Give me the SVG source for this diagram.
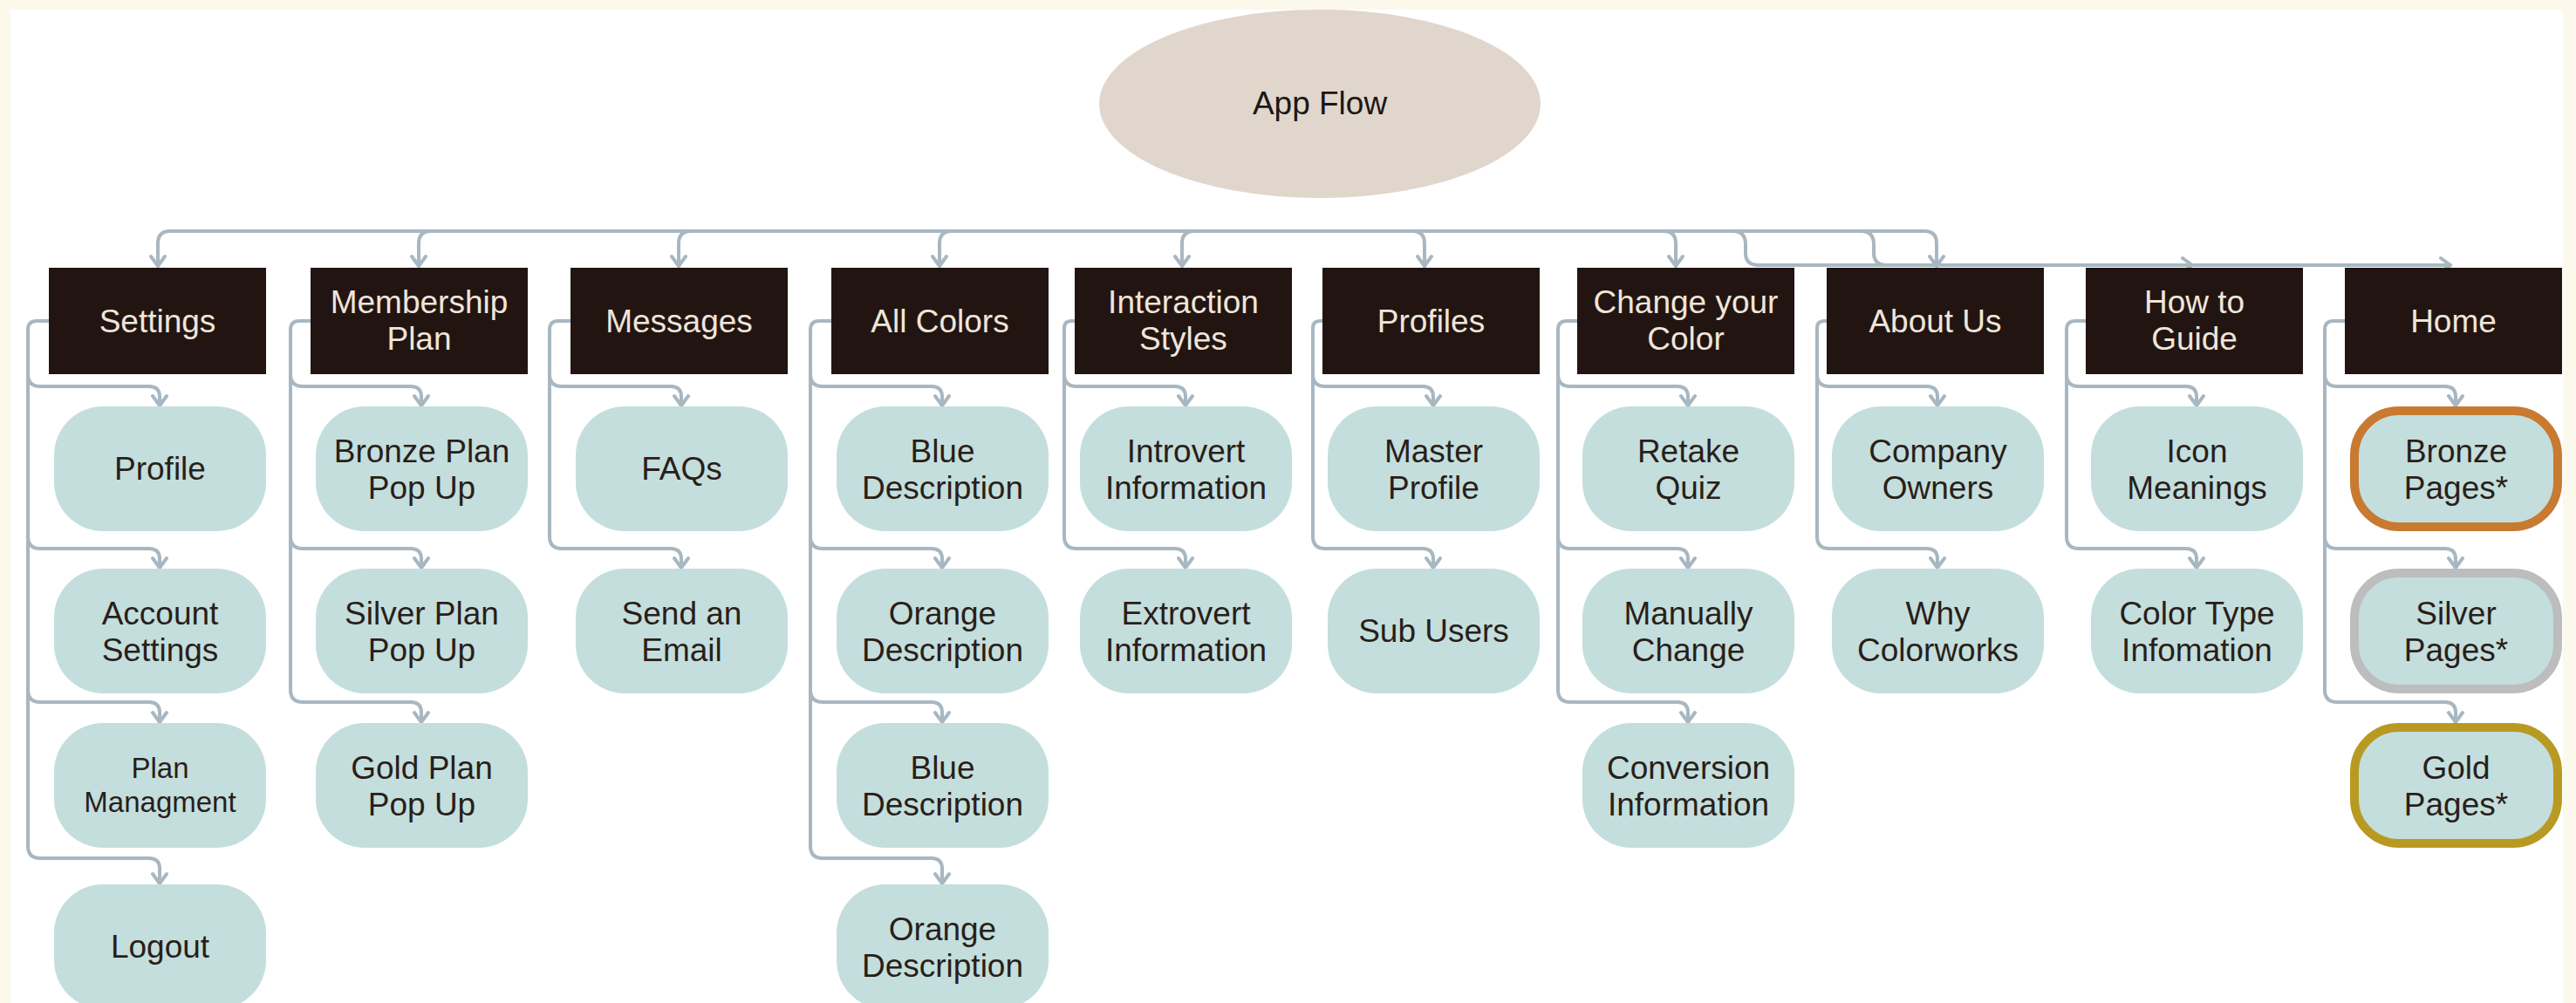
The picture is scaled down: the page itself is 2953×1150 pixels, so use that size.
<svg xmlns="http://www.w3.org/2000/svg" width="2953" height="1150" viewBox="0 0 2953 1150">
  <style>
    .hdr rect { fill: #221511; }
    .hdr text { fill: #efe5da; font-family: "Liberation Sans", Arial, sans-serif; font-size: 37px; text-anchor: middle; }
    .leaf rect { fill: #c3dedd; }
    .leaf text { fill: #2a1e19; font-family: "Liberation Sans", Arial, sans-serif; font-size: 37px; text-anchor: middle; }
    .leaf text.small { font-size: 33px; }
    .conn path { fill: none; stroke: #a8b7c1; stroke-width: 4; stroke-linecap: round; stroke-linejoin: round; marker-end: url(#ah); }
    .conn path.plain { marker-end: none; }
    .root text { fill: #1c1714; font-family: "Liberation Sans", Arial, sans-serif; font-size: 37px; text-anchor: middle; }
  </style>
  <defs>
    <marker id="ah" viewBox="0 0 20 20" refX="18" refY="10" markerWidth="20" markerHeight="20" markerUnits="userSpaceOnUse" orient="auto">
      <path d="M7,2 L18,10 L7,18" fill="none" stroke="#a8b7c1" stroke-width="4" stroke-linecap="round" stroke-linejoin="round"/>
    </marker>
  </defs>

  <!-- page -->
  <rect x="0" y="0" width="2953" height="1150" fill="#fdf8ec"/>
  <rect x="12" y="11" width="2926" height="1139" fill="#ffffff"/>

  <!-- connectors -->
  <g id="connectors" class="conn">
    <!-- top bus -->
    <path class="plain" d="M195,265 H2206"/>
    <path d="M195,265 Q181,265 181,279 V305"/>
    <path d="M494,265 Q480,265 480,279 V305"/>
    <path d="M792,265 Q778,265 778,279 V305"/>
    <path d="M1091,265 Q1077,265 1077,279 V305"/>
    <path d="M1369,265 Q1355,265 1355,279 V305"/>
    <path d="M1619,265 Q1633,265 1633,279 V305"/>
    <path d="M1907,265 Q1921,265 1921,279 V305"/>
    <path d="M2206,265 Q2220,265 2220,279 V305"/>
    <!-- drops to the right-hand row, running along the box tops -->
    <path d="M1986,265 Q2001,265 2001,280 V290 Q2001,304 2016,304 H2513"/>
    <path d="M2133,265 Q2148,265 2148,280 V290 Q2148,304 2163,304 H2809"/>

    <!-- Settings -->
    <path class="plain" d="M56,368 H42 Q32,368 32,378 V970"/>
    <path d="M32,429 Q32,443 46,443 H171 Q183,443 183,455 V465"/>
    <path d="M32,615 Q32,629 46,629 H171 Q183,629 183,641 V651"/>
    <path d="M32,791 Q32,805 46,805 H171 Q183,805 183,817 V828"/>
    <path d="M32,970 Q32,984 46,984 H171 Q183,984 183,996 V1013"/>
    <!-- Membership Plan -->
    <path class="plain" d="M356,368 H343 Q333,368 333,378 V791"/>
    <path d="M333,429 Q333,443 347,443 H471 Q483,443 483,455 V465"/>
    <path d="M333,615 Q333,629 347,629 H471 Q483,629 483,641 V651"/>
    <path d="M333,791 Q333,805 347,805 H471 Q483,805 483,817 V828"/>
    <!-- Messages -->
    <path class="plain" d="M654,368 H640 Q630,368 630,378 V615"/>
    <path d="M630,429 Q630,443 644,443 H769 Q781,443 781,455 V465"/>
    <path d="M630,615 Q630,629 644,629 H769 Q781,629 781,641 V651"/>
    <!-- All Colors -->
    <path class="plain" d="M953,368 H939 Q929,368 929,378 V970"/>
    <path d="M929,429 Q929,443 943,443 H1068 Q1080,443 1080,455 V465"/>
    <path d="M929,615 Q929,629 943,629 H1068 Q1080,629 1080,641 V651"/>
    <path d="M929,791 Q929,805 943,805 H1068 Q1080,805 1080,817 V828"/>
    <path d="M929,970 Q929,984 943,984 H1068 Q1080,984 1080,996 V1013"/>
    <!-- Interaction Styles -->
    <path class="plain" d="M1232,368 H1228 Q1220,368 1220,376 V615"/>
    <path d="M1220,429 Q1220,443 1234,443 H1347 Q1359,443 1359,455 V465"/>
    <path d="M1220,615 Q1220,629 1234,629 H1347 Q1359,629 1359,641 V651"/>
    <!-- Profiles -->
    <path class="plain" d="M1516,368 H1513 Q1505,368 1505,376 V615"/>
    <path d="M1505,429 Q1505,443 1519,443 H1631 Q1643,443 1643,455 V465"/>
    <path d="M1505,615 Q1505,629 1519,629 H1631 Q1643,629 1643,641 V651"/>
    <!-- Change your Color -->
    <path class="plain" d="M1808,368 H1796 Q1786,368 1786,378 V791"/>
    <path d="M1786,429 Q1786,443 1800,443 H1923 Q1935,443 1935,455 V465"/>
    <path d="M1786,615 Q1786,629 1800,629 H1923 Q1935,629 1935,641 V651"/>
    <path d="M1786,791 Q1786,805 1800,805 H1923 Q1935,805 1935,817 V828"/>
    <!-- About Us -->
    <path class="plain" d="M2094,368 H2091 Q2083,368 2083,376 V615"/>
    <path d="M2083,429 Q2083,443 2097,443 H2209 Q2221,443 2221,455 V465"/>
    <path d="M2083,615 Q2083,629 2097,629 H2209 Q2221,629 2221,641 V651"/>
    <!-- How to Guide -->
    <path class="plain" d="M2391,368 H2379 Q2369,368 2369,378 V615"/>
    <path d="M2369,429 Q2369,443 2383,443 H2506 Q2518,443 2518,455 V465"/>
    <path d="M2369,615 Q2369,629 2383,629 H2506 Q2518,629 2518,641 V651"/>
    <!-- Home -->
    <path class="plain" d="M2688,368 H2675 Q2665,368 2665,378 V791"/>
    <path d="M2665,429 Q2665,443 2679,443 H2803 Q2815,443 2815,455 V465"/>
    <path d="M2665,615 Q2665,629 2679,629 H2803 Q2815,629 2815,641 V651"/>
    <path d="M2665,791 Q2665,805 2679,805 H2803 Q2815,805 2815,817 V828"/>
  </g>

  <!-- root -->
  <g id="app-flow" class="root">
    <ellipse cx="1513" cy="119" rx="253" ry="108" fill="#e0d6cc"/>
    <text x="1513" y="131">App Flow</text>
  </g>

  <!-- section headers -->
  <g id="settings" class="hdr"><rect x="56" y="307" width="249" height="122"/><text x="180.5" y="381">Settings</text></g>
  <g id="membership-plan" class="hdr"><rect x="356" y="307" width="249" height="122"/><text x="480.5" y="359">Membership</text><text x="480.5" y="401">Plan</text></g>
  <g id="messages" class="hdr"><rect x="654" y="307" width="249" height="122"/><text x="778.5" y="381">Messages</text></g>
  <g id="all-colors" class="hdr"><rect x="953" y="307" width="249" height="122"/><text x="1077.5" y="381">All Colors</text></g>
  <g id="interaction-styles" class="hdr"><rect x="1232" y="307" width="249" height="122"/><text x="1356.5" y="359">Interaction</text><text x="1356.5" y="401">Styles</text></g>
  <g id="profiles" class="hdr"><rect x="1516" y="307" width="249" height="122"/><text x="1640.5" y="381">Profiles</text></g>
  <g id="change-your-color" class="hdr"><rect x="1808" y="307" width="249" height="122"/><text x="1932.5" y="359">Change your</text><text x="1932.5" y="401">Color</text></g>
  <g id="about-us" class="hdr"><rect x="2094" y="307" width="249" height="122"/><text x="2218.5" y="381">About Us</text></g>
  <g id="how-to-guide" class="hdr"><rect x="2391" y="307" width="249" height="122"/><text x="2515.5" y="359">How to</text><text x="2515.5" y="401">Guide</text></g>
  <g id="home" class="hdr"><rect x="2688" y="307" width="249" height="122"/><text x="2812.5" y="381">Home</text></g>

  <!-- Settings pages -->
  <g id="profile" class="leaf"><rect x="62" y="466" width="243" height="143" rx="56"/><text x="183.5" y="550">Profile</text></g>
  <g id="account-settings" class="leaf"><rect x="62" y="652" width="243" height="143" rx="56"/><text x="183.5" y="716">Account</text><text x="183.5" y="758">Settings</text></g>
  <g id="plan-managment" class="leaf"><rect x="62" y="829" width="243" height="143" rx="56"/><text class="small" x="183.5" y="892">Plan</text><text class="small" x="183.5" y="931">Managment</text></g>
  <g id="logout" class="leaf"><rect x="62" y="1014" width="243" height="143" rx="56"/><text x="183.5" y="1098">Logout</text></g>

  <!-- Membership pages -->
  <g id="bronze-plan-pop-up" class="leaf"><rect x="362" y="466" width="243" height="143" rx="56"/><text x="483.5" y="530">Bronze Plan</text><text x="483.5" y="572">Pop Up</text></g>
  <g id="silver-plan-pop-up" class="leaf"><rect x="362" y="652" width="243" height="143" rx="56"/><text x="483.5" y="716">Silver Plan</text><text x="483.5" y="758">Pop Up</text></g>
  <g id="gold-plan-pop-up" class="leaf"><rect x="362" y="829" width="243" height="143" rx="56"/><text x="483.5" y="893">Gold Plan</text><text x="483.5" y="935">Pop Up</text></g>

  <!-- Messages pages -->
  <g id="faqs" class="leaf"><rect x="660" y="466" width="243" height="143" rx="56"/><text x="781.5" y="550">FAQs</text></g>
  <g id="send-an-email" class="leaf"><rect x="660" y="652" width="243" height="143" rx="56"/><text x="781.5" y="716">Send an</text><text x="781.5" y="758">Email</text></g>

  <!-- All Colors pages -->
  <g id="blue-description-1" class="leaf"><rect x="959" y="466" width="243" height="143" rx="56"/><text x="1080.5" y="530">Blue</text><text x="1080.5" y="572">Description</text></g>
  <g id="orange-description-1" class="leaf"><rect x="959" y="652" width="243" height="143" rx="56"/><text x="1080.5" y="716">Orange</text><text x="1080.5" y="758">Description</text></g>
  <g id="blue-description-2" class="leaf"><rect x="959" y="829" width="243" height="143" rx="56"/><text x="1080.5" y="893">Blue</text><text x="1080.5" y="935">Description</text></g>
  <g id="orange-description-2" class="leaf"><rect x="959" y="1014" width="243" height="143" rx="56"/><text x="1080.5" y="1078">Orange</text><text x="1080.5" y="1120">Description</text></g>

  <!-- Interaction Styles pages -->
  <g id="introvert-information" class="leaf"><rect x="1238" y="466" width="243" height="143" rx="56"/><text x="1359.5" y="530">Introvert</text><text x="1359.5" y="572">Information</text></g>
  <g id="extrovert-information" class="leaf"><rect x="1238" y="652" width="243" height="143" rx="56"/><text x="1359.5" y="716">Extrovert</text><text x="1359.5" y="758">Information</text></g>

  <!-- Profiles pages -->
  <g id="master-profile" class="leaf"><rect x="1522" y="466" width="243" height="143" rx="56"/><text x="1643.5" y="530">Master</text><text x="1643.5" y="572">Profile</text></g>
  <g id="sub-users" class="leaf"><rect x="1522" y="652" width="243" height="143" rx="56"/><text x="1643.5" y="736">Sub Users</text></g>

  <!-- Change your Color pages -->
  <g id="retake-quiz" class="leaf"><rect x="1814" y="466" width="243" height="143" rx="56"/><text x="1935.5" y="530">Retake</text><text x="1935.5" y="572">Quiz</text></g>
  <g id="manually-change" class="leaf"><rect x="1814" y="652" width="243" height="143" rx="56"/><text x="1935.5" y="716">Manually</text><text x="1935.5" y="758">Change</text></g>
  <g id="conversion-information" class="leaf"><rect x="1814" y="829" width="243" height="143" rx="56"/><text x="1935.5" y="893">Conversion</text><text x="1935.5" y="935">Information</text></g>

  <!-- About Us pages -->
  <g id="company-owners" class="leaf"><rect x="2100" y="466" width="243" height="143" rx="56"/><text x="2221.5" y="530">Company</text><text x="2221.5" y="572">Owners</text></g>
  <g id="why-colorworks" class="leaf"><rect x="2100" y="652" width="243" height="143" rx="56"/><text x="2221.5" y="716">Why</text><text x="2221.5" y="758">Colorworks</text></g>

  <!-- How to Guide pages -->
  <g id="icon-meanings" class="leaf"><rect x="2397" y="466" width="243" height="143" rx="56"/><text x="2518.5" y="530">Icon</text><text x="2518.5" y="572">Meanings</text></g>
  <g id="color-type-infomation" class="leaf"><rect x="2397" y="652" width="243" height="143" rx="56"/><text x="2518.5" y="716">Color Type</text><text x="2518.5" y="758">Infomation</text></g>

  <!-- Home pages, outlined by tier -->
  <g id="bronze-pages" class="leaf"><rect x="2699" y="471" width="233" height="133" rx="51" stroke="#c87a30" stroke-width="10"/><text x="2815.5" y="530">Bronze</text><text x="2815.5" y="572">Pages*</text></g>
  <g id="silver-pages" class="leaf"><rect x="2699" y="657" width="233" height="133" rx="51" stroke="#bdbdbd" stroke-width="10"/><text x="2815.5" y="716">Silver</text><text x="2815.5" y="758">Pages*</text></g>
  <g id="gold-pages" class="leaf"><rect x="2699" y="834" width="233" height="133" rx="51" stroke="#b89a22" stroke-width="10"/><text x="2815.5" y="893">Gold</text><text x="2815.5" y="935">Pages*</text></g>
</svg>
